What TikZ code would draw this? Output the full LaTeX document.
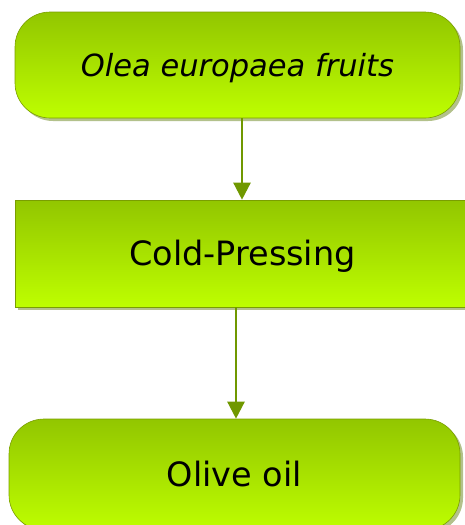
\documentclass[tikz,border=0pt]{standalone}
\usepackage{fontspec}
\setmainfont{DejaVu Sans}
\usetikzlibrary{arrows.meta,shadows}
\definecolor{limetop}{RGB}{146,198,0}
\definecolor{limebot}{RGB}{190,254,0}
\definecolor{limeline}{RGB}{122,158,0}
\definecolor{arrowgreen}{RGB}{112,152,0}
\definecolor{shadowgreen}{RGB}{160,178,110}
\tikzset{
    stage/.style={draw=limeline, line width=0.6pt, top color=limetop, bottom color=limebot,
        drop shadow={shadow xshift=3pt, shadow yshift=-3pt, fill=shadowgreen, opacity=0.8},
        inner sep=0pt, text height=24pt, text depth=0pt, font=\fontsize{33.5}{38}\selectfont},
    flow/.style={-{Triangle[length=17pt,width=17pt]}, draw=arrowgreen, fill=arrowgreen, line width=2.4pt}
}
\begin{document}
\begin{tikzpicture}[x=1pt, y=-1pt]
    \useasboundingbox (0,0) rectangle (465,525);
    \node[stage, rounded corners=35pt, minimum width=445pt, minimum height=106pt, text height=22pt,
        font=\fontsize{30.5}{34}\selectfont\itshape] (fruits) at (237.5,65) {Olea europaea fruits};
    \node[stage, minimum width=455pt, minimum height=107pt] (press) at (242.5,253.5) {Cold-Pressing};
    \node[stage, rounded corners=35pt, minimum width=451pt, minimum height=111pt] (oil) at (234.5,474.5) {Olive oil};

    \draw[flow] ([xshift=4.5pt]fruits.south) -- ([xshift=4.5pt]fruits.south |- press.north);
    \draw[flow] ([xshift=-6.5pt]press.south) -- ([xshift=-6.5pt]press.south |- oil.north);
\end{tikzpicture}
\end{document}
